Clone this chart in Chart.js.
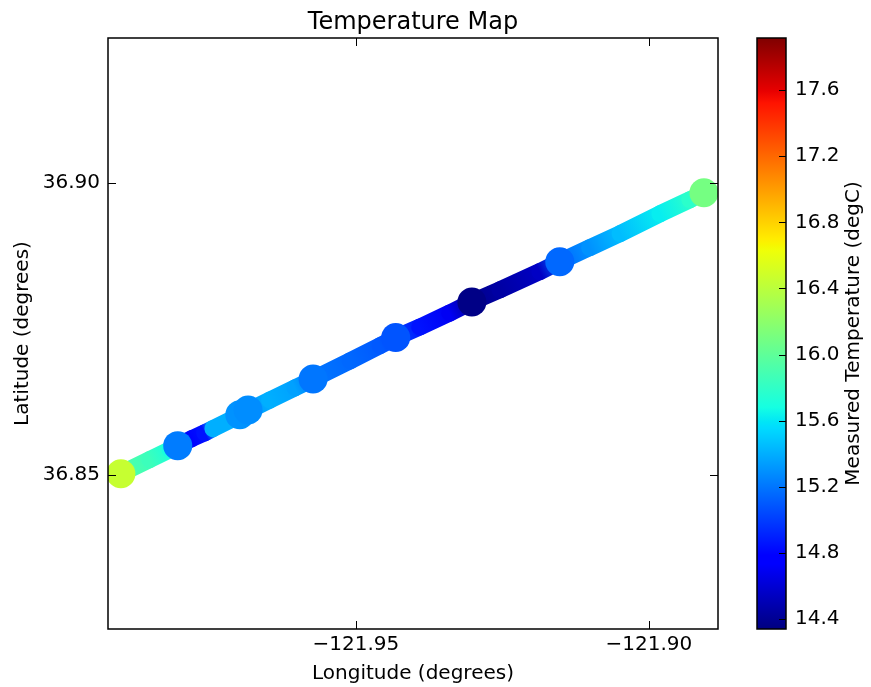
<!DOCTYPE html>
<html>
<head>
<meta charset="utf-8">
<title>Temperature Map</title>
<script src="https://cdn.jsdelivr.net/npm/chart.js@4.4.0/dist/chart.umd.min.js"></script>
<style>
	body { margin: 0; background: #ffffff; }
	#mapa { position: absolute; left: 0; top: 0; }
	#barra { position: absolute; left: 740px; top: 0; }
</style>
</head>
<body>
<canvas id="mapa" width="740" height="687"></canvas>
<canvas id="barra" width="131" height="687"></canvas>
<script>
/*######################################## DATOS ########################################*/

// recorrido del barco (banda continua)
let trackLon = [-121.9901, -121.9852, -121.9817, -121.9804, -121.9780, -121.9758, -121.9744, -121.9706,
	-121.9691, -121.9647, -121.9604, -121.9573, -121.9510, -121.9459, -121.9432, -121.9391, -121.9340,
	-121.9302, -121.9254, -121.9186, -121.9152, -121.9101, -121.9049, -121.8981, -121.8930, -121.8906];
let trackLat = [36.8502, 36.8526, 36.8543, 36.8550, 36.8562, 36.8572, 36.8579, 36.8598,
	36.8606, 36.8628, 36.8649, 36.8664, 36.8695, 36.8721, 36.8735, 36.8753, 36.8777,
	36.8796, 36.8817, 36.8848, 36.8865, 36.8889, 36.8913, 36.8947, 36.8971, 36.8983];
let trackTemp = [15.95, 15.85, 15.70, 15.25, 14.80, 14.85, 15.40, 15.40,
	15.30, 15.40, 15.35, 15.20, 15.15, 15.10, 15.05, 14.85, 14.70,
	14.38, 14.45, 14.55, 15.15, 15.30, 15.45, 15.62, 15.78, 16.00];

// paradas (puntos grandes)
let stopLon = [-121.9901, -121.9804, -121.9698, -121.9684, -121.9573, -121.9432, -121.9302, -121.9152, -121.8906];
let stopLat = [36.8502, 36.8550, 36.8603, 36.8611, 36.8664, 36.8735, 36.8796, 36.8865, 36.8983];
let stopTemp = [16.45, 15.22, 15.30, 15.28, 15.20, 15.08, 14.36, 15.15, 16.10];

// ejes
let lonRange = [-121.9923, -121.8882];
let latRange = [36.8236, 36.9248];
let tempRange = [14.34, 17.915];
let lonTicks = [-121.95, -121.90];
let latTicks = [36.85, 36.90];
let tempTicks = [14.4, 14.8, 15.2, 15.6, 16.0, 16.4, 16.8, 17.2, 17.6];

/*######################################## COLORES (jet) ########################################*/

let jetR = [[0, 0], [0.35, 0], [0.66, 1], [0.89, 1], [1, 0.5]];
let jetG = [[0, 0], [0.125, 0], [0.375, 1], [0.64, 1], [0.91, 0], [1, 0]];
let jetB = [[0, 0.5], [0.11, 1], [0.34, 1], [0.65, 0], [1, 0]];
let jetStops = [0, 0.11, 0.125, 0.34, 0.35, 0.375, 0.64, 0.65, 0.66, 0.89, 0.91, 1];

function interp(tabla, t) {
	for (let i = 1; i < tabla.length; i++) {
		if (t <= tabla[i][0]) {
			let f = (t - tabla[i - 1][0]) / (tabla[i][0] - tabla[i - 1][0]);
			return tabla[i - 1][1] + f * (tabla[i][1] - tabla[i - 1][1]);
		}
	}
	return tabla[tabla.length - 1][1];
}

function jet(t) {
	t = Math.min(1, Math.max(0, t));
	let r = Math.round(255 * interp(jetR, t));
	let g = Math.round(255 * interp(jetG, t));
	let b = Math.round(255 * interp(jetB, t));
	return "rgb(" + r + "," + g + "," + b + ")";
}

function tempColor(v) {
	return jet((v - tempRange[0]) / (tempRange[1] - tempRange[0]));
}

Chart.defaults.font.family = "'DejaVu Sans', sans-serif";
Chart.defaults.font.size = 20;
Chart.defaults.color = "#000000";

/*######################################## PLUGINS ########################################*/

// marco negro, ticks hacia dentro y titulo centrado sobre el area (estilo matplotlib)
const marcoMapa = {
	id: "marcoMapa",
	afterDraw(chart) {
		let ctx = chart.ctx;
		let a = chart.chartArea;
		let x = chart.scales.x;
		let y = chart.scales.y;
		ctx.save();
		ctx.strokeStyle = "#000000";
		ctx.lineWidth = 1;
		ctx.beginPath();
		x.ticks.forEach(function (t) {
			let px = Math.round(x.getPixelForValue(t.value)) + 0.5;
			ctx.moveTo(px, a.bottom); ctx.lineTo(px, a.bottom - 8);
			ctx.moveTo(px, a.top); ctx.lineTo(px, a.top + 8);
		});
		y.ticks.forEach(function (t) {
			let py = Math.round(y.getPixelForValue(t.value)) + 0.5;
			ctx.moveTo(a.left, py); ctx.lineTo(a.left + 8, py);
			ctx.moveTo(a.right, py); ctx.lineTo(a.right - 8, py);
		});
		ctx.stroke();
		ctx.lineWidth = 1.5;
		ctx.strokeRect(a.left, a.top, a.right - a.left, a.bottom - a.top);
		ctx.font = "24px 'DejaVu Sans'";
		ctx.fillStyle = "#000000";
		ctx.textAlign = "center";
		ctx.textBaseline = "alphabetic";
		ctx.fillText("Temperature Map", (a.left + a.right) / 2, 28.5);
		ctx.restore();
	}
};

const marcoBarra = {
	id: "marcoBarra",
	afterDraw(chart) {
		let ctx = chart.ctx;
		let a = chart.chartArea;
		let y = chart.scales.y;
		ctx.save();
		ctx.strokeStyle = "#000000";
		ctx.lineWidth = 1;
		ctx.beginPath();
		y.ticks.forEach(function (t) {
			let py = Math.round(y.getPixelForValue(t.value)) + 0.5;
			ctx.moveTo(a.right, py); ctx.lineTo(a.right - 7, py);
		});
		ctx.stroke();
		ctx.lineWidth = 1.5;
		ctx.strokeRect(a.left, a.top, a.right - a.left, a.bottom - a.top);
		// titulo de la barra, leido de abajo hacia arriba
		ctx.translate(114, (a.top + a.bottom) / 2);
		ctx.rotate(-Math.PI / 2);
		ctx.font = "20px 'DejaVu Sans'";
		ctx.fillStyle = "#000000";
		ctx.textAlign = "center";
		ctx.textBaseline = "middle";
		ctx.fillText("Measured Temperature (degC)", 0, 0);
		ctx.restore();
	}
};

/*######################################## MAPA ########################################*/

const ctx = document.getElementById("mapa").getContext("2d");

let puntosTrack = trackLon.map(function (v, i) { return { x: v, y: trackLat[i] }; });
let puntosStop = stopLon.map(function (v, i) { return { x: v, y: stopLat[i] }; });

let mapa = new Chart(ctx, {
	type: "scatter",
	data: {
		datasets: [
			{
				label: "Stops",
				data: puntosStop,
				order: 0,
				pointRadius: 14.5,
				pointHoverRadius: 14.5,
				pointBorderWidth: 0,
				pointBackgroundColor: stopTemp.map(tempColor),
				clip: 0,
			},
			{
				label: "Track",
				type: "line",
				data: puntosTrack,
				order: 1,
				showLine: true,
				pointRadius: 0,
				borderWidth: 17,
				borderCapStyle: "round",
				borderJoinStyle: "round",
				tension: 0,
				clip: 0,
				segment: {
					borderColor: function (c) {
						let g = c.chart.ctx.createLinearGradient(c.p0.x, c.p0.y, c.p1.x, c.p1.y);
						g.addColorStop(0, tempColor(trackTemp[c.p0DataIndex]));
						g.addColorStop(1, tempColor(trackTemp[c.p1DataIndex]));
						return g;
					},
				},
			},
		],
	},
	options: {
		responsive: false,
		animation: false,
		events: [],
		layout: { padding: { left: 0, right: 22, top: 38, bottom: 0 } },
		plugins: {
			legend: { display: false },
			tooltip: { enabled: false },
			title: { display: false },
		},
		scales: {
			x: {
				type: "linear",
				position: "bottom",
				min: lonRange[0],
				max: lonRange[1],
				grid: { display: false, drawTicks: false },
				border: { display: false },
				afterBuildTicks: function (s) { s.ticks = lonTicks.map(function (v) { return { value: v }; }); },
				afterFit: function (s) { s.height = 58; },
				ticks: {
					padding: 4,
					maxRotation: 0,
					callback: function (v) { return "\u2212" + Math.abs(v).toFixed(2); },
				},
				title: { display: true, text: "Longitude (degrees)", padding: { top: 0, bottom: 1 } },
			},
			y: {
				type: "linear",
				min: latRange[0],
				max: latRange[1],
				grid: { display: false, drawTicks: false },
				border: { display: false },
				afterBuildTicks: function (s) { s.ticks = latTicks.map(function (v) { return { value: v }; }); },
				afterFit: function (s) { s.width = 108; },
				ticks: {
					padding: 8,
					callback: function (v) { return v.toFixed(2); },
				},
				title: { display: true, text: "Latitude (degrees)", padding: { top: 11, bottom: 0 } },
			},
		},
	},
	plugins: [marcoMapa],
});

/*######################################## BARRA DE COLOR ########################################*/

const ctb = document.getElementById("barra").getContext("2d");

let barra = new Chart(ctb, {
	type: "bar",
	data: {
		labels: [""],
		datasets: [
			{
				label: "Measured Temperature (degC)",
				data: [[tempRange[0], tempRange[1]]],
				barPercentage: 1,
				categoryPercentage: 1,
				borderWidth: 0,
				backgroundColor: function (c) {
					let a = c.chart.chartArea;
					if (!a) return tempColor(16);
					let g = c.chart.ctx.createLinearGradient(0, a.bottom, 0, a.top);
					jetStops.forEach(function (t) { g.addColorStop(t, jet(t)); });
					return g;
				},
			},
		],
	},
	options: {
		responsive: false,
		animation: false,
		events: [],
		layout: { padding: { left: 17, right: 0, top: 38, bottom: 58 } },
		plugins: {
			legend: { display: false },
			tooltip: { enabled: false },
		},
		scales: {
			x: { display: false },
			y: {
				type: "linear",
				position: "right",
				min: tempRange[0],
				max: tempRange[1],
				grid: { display: false, drawTicks: false },
				border: { display: false },
				afterBuildTicks: function (s) { s.ticks = tempTicks.map(function (v) { return { value: v }; }); },
				afterFit: function (s) { s.width = 85; },
				ticks: {
					padding: 9,
					callback: function (v) { return v.toFixed(1); },
				},
			},
		},
	},
	plugins: [marcoBarra],
});
</script>
</body>
</html>
